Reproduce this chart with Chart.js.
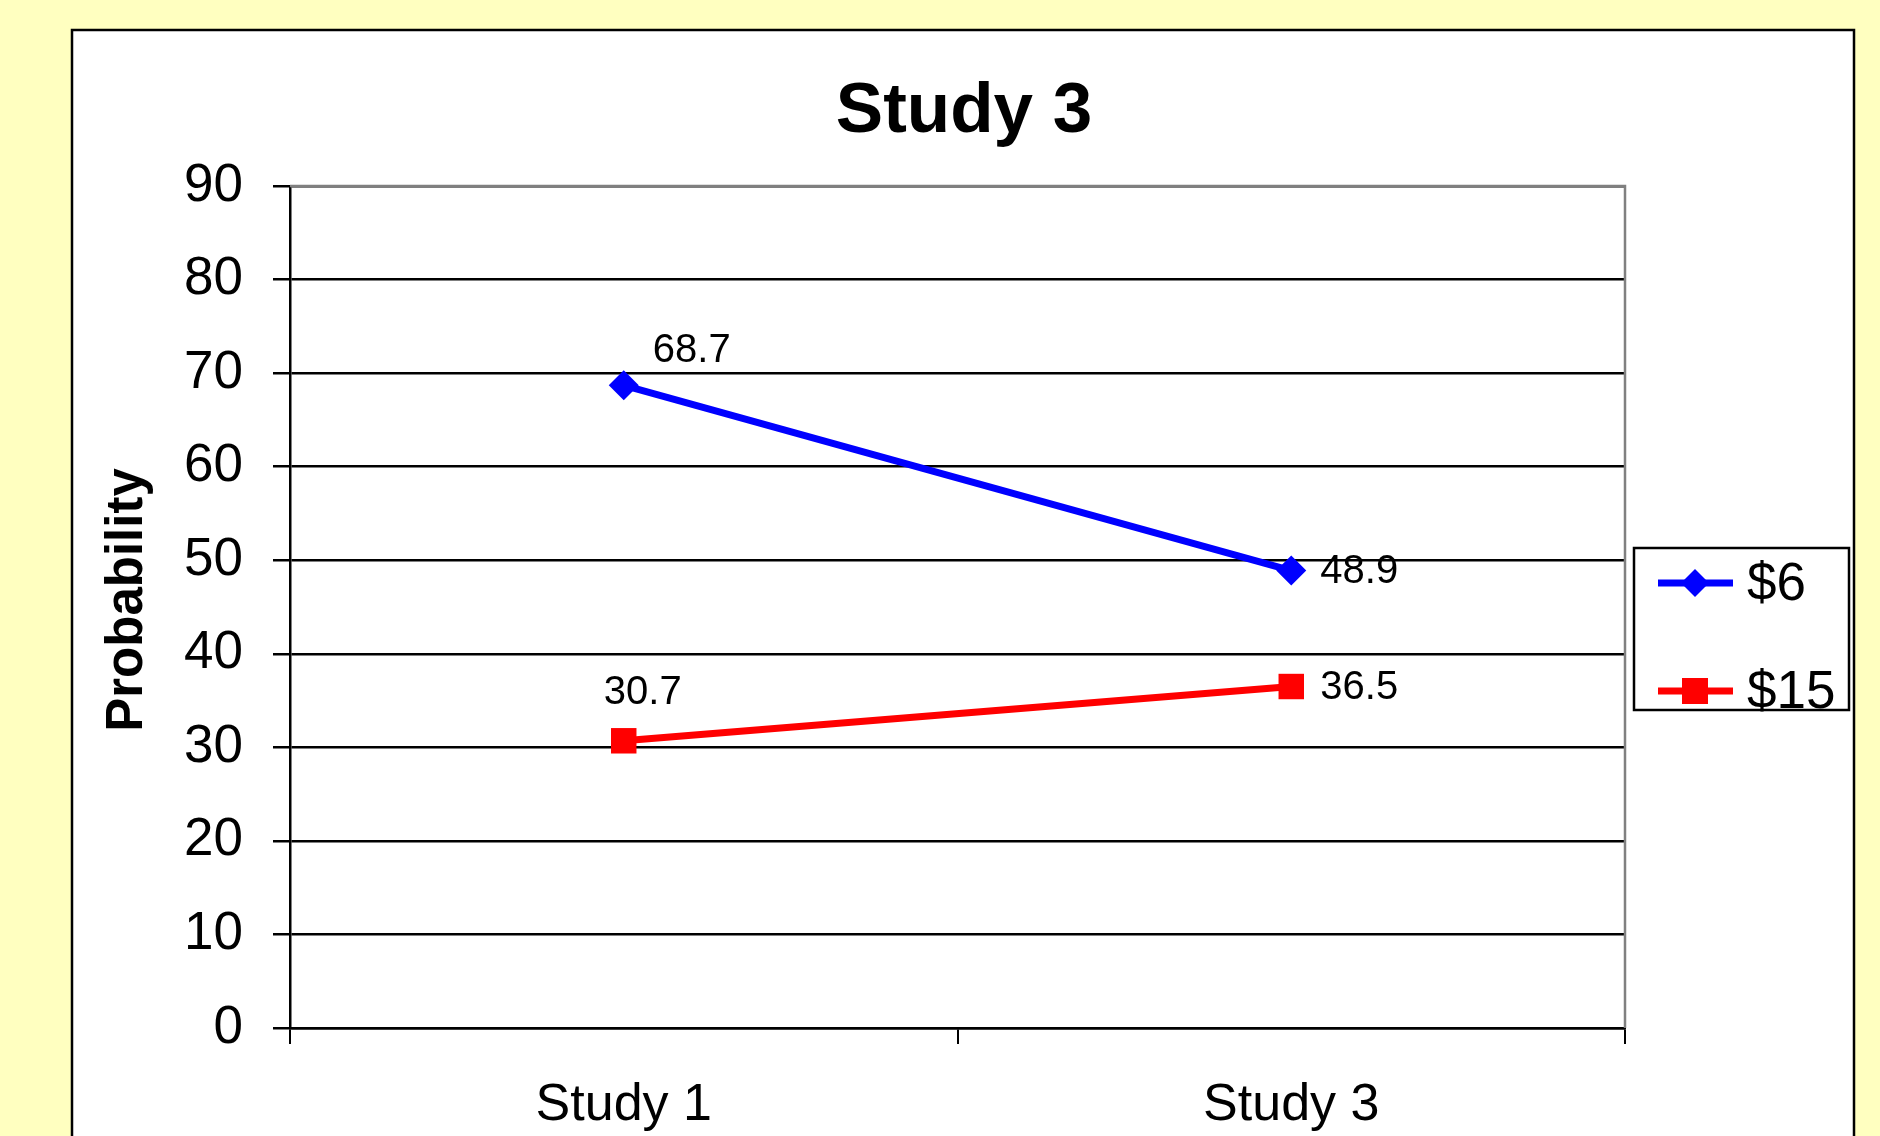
<!DOCTYPE html>
<html>
<head>
<meta charset="utf-8">
<title>Study 3</title>
<script src="https://cdn.jsdelivr.net/npm/chart.js@4/dist/chart.umd.min.js"></script>
<style>
  html, body { margin: 0; padding: 0; background: #FFFFC0; }
  #wrap { width: 1880px; height: 1136px; }
</style>
</head>
<body>
<div id="wrap"><canvas id="c" width="1880" height="1136"></canvas></div>
<script>
// Chart data
const categories = ['Study 1', 'Study 3'];
const seriesNames = ['$6', '$15'];
const values6 = [68.7, 48.9];
const values15 = [30.7, 36.5];
const yTicks = [0, 10, 20, 30, 40, 50, 60, 70, 80, 90];
const chartTitle = 'Study 3';
const yAxisTitle = 'Probability';

const FONT = '"Liberation Sans", Arial, Helvetica, sans-serif';

// Page backdrop: yellow slide with a white framed panel
const panelPlugin = {
  id: 'panel',
  beforeDraw(chart) {
    const ctx = chart.ctx;
    ctx.save();
    ctx.fillStyle = '#FFFFC0';
    ctx.fillRect(0, 0, chart.width, chart.height);
    ctx.fillStyle = '#FFFFFF';
    ctx.fillRect(72, 30, 1782, 1120);
    ctx.strokeStyle = '#000000';
    ctx.lineWidth = 2.5;
    ctx.strokeRect(72, 30, 1782, 1120);
    // title
    ctx.fillStyle = '#000000';
    ctx.font = 'bold 71px ' + FONT;
    ctx.textAlign = 'center';
    ctx.textBaseline = 'middle';
    ctx.fillText(chartTitle, 964, 112);
    // rotated axis title
    ctx.save();
    ctx.translate(128, 600);
    ctx.rotate(-Math.PI / 2);
    ctx.font = 'bold 51px ' + FONT;
    ctx.fillText(yAxisTitle, 0, 0);
    ctx.restore();
    ctx.restore();
  },
  beforeDatasetsDraw(chart) {
    // grey frame on top and right of the plot area
    const a = chart.chartArea;
    const ctx = chart.ctx;
    ctx.save();
    ctx.strokeStyle = '#808080';
    ctx.lineWidth = 2.5;
    ctx.beginPath();
    ctx.moveTo(a.left, a.top);
    ctx.lineTo(a.right, a.top);
    ctx.lineTo(a.right, a.bottom);
    ctx.stroke();
    ctx.restore();
  }
};

// Value labels next to each point
const labelOffsets = [
  [[68, -34], [68, 1]],
  [[19, -48], [68, 1]]
];
const valueLabelPlugin = {
  id: 'valueLabels',
  afterDatasetsDraw(chart) {
    const ctx = chart.ctx;
    ctx.save();
    ctx.fillStyle = '#000000';
    ctx.font = '40px ' + FONT;
    ctx.textAlign = 'center';
    ctx.textBaseline = 'middle';
    chart.data.datasets.forEach((ds, di) => {
      const meta = chart.getDatasetMeta(di);
      meta.data.forEach((pt, i) => {
        const off = labelOffsets[di][i];
        ctx.fillText(String(ds.data[i]), pt.x + off[0], pt.y + off[1]);
      });
    });
    ctx.restore();
  }
};

// Boxed legend on the right with line + marker samples
const boxLegendPlugin = {
  id: 'boxLegend',
  afterDraw(chart) {
    const ctx = chart.ctx;
    ctx.save();
    ctx.fillStyle = '#FFFFFF';
    ctx.fillRect(1634, 548, 215, 162);
    ctx.strokeStyle = '#000000';
    ctx.lineWidth = 2.5;
    ctx.strokeRect(1634, 548, 215, 162);
    const rows = [583, 691];
    chart.data.datasets.forEach((ds, di) => {
      const y = rows[di];
      ctx.strokeStyle = ds.borderColor;
      ctx.lineWidth = 7;
      ctx.beginPath();
      ctx.moveTo(1658, y);
      ctx.lineTo(1733, y);
      ctx.stroke();
      ctx.fillStyle = ds.pointBackgroundColor;
      ctx.beginPath();
      if (ds.pointStyle === 'rectRot') {
        const r = 14;
        ctx.moveTo(1695, y - r);
        ctx.lineTo(1695 + r, y);
        ctx.lineTo(1695, y + r);
        ctx.lineTo(1695 - r, y);
        ctx.closePath();
      } else {
        ctx.rect(1695 - 13, y - 13, 26, 26);
      }
      ctx.fill();
      ctx.fillStyle = '#000000';
      ctx.font = '53px ' + FONT;
      ctx.textAlign = 'left';
      ctx.textBaseline = 'middle';
      ctx.fillText(ds.label, 1747, y + 2);
    });
    ctx.restore();
  }
};

new Chart(document.getElementById('c'), {
  type: 'line',
  data: {
    labels: categories,
    datasets: [
      {
        label: seriesNames[0],
        data: values6,
        borderColor: '#0000FF',
        backgroundColor: '#0000FF',
        pointBackgroundColor: '#0000FF',
        pointBorderColor: '#0000FF',
        pointStyle: 'rectRot',
        pointRadius: 15,
        pointBorderWidth: 0,
        borderWidth: 7,
        tension: 0,
        fill: false
      },
      {
        label: seriesNames[1],
        data: values15,
        borderColor: '#FF0000',
        backgroundColor: '#FF0000',
        pointBackgroundColor: '#FF0000',
        pointBorderColor: '#FF0000',
        pointStyle: 'rect',
        pointRadius: 18,
        pointBorderWidth: 0,
        borderWidth: 7,
        tension: 0,
        fill: false
      }
    ]
  },
  options: {
    responsive: false,
    animation: false,
    devicePixelRatio: 1,
    layout: { padding: { top: 186, right: 255, left: 0, bottom: 0 } },
    plugins: {
      legend: { display: false },
      title: { display: false },
      tooltip: { enabled: false }
    },
    scales: {
      x: {
        type: 'category',
        offset: true,
        afterFit(scale) { scale.height = 108; },
        grid: {
          offset: true,
          drawOnChartArea: false,
          drawTicks: true,
          tickLength: 16,
          color: '#000000',
          lineWidth: 2
        },
        border: { display: true, color: '#000000', width: 2.5 },
        ticks: {
          color: '#000000',
          padding: 30,
          maxRotation: 0,
          font: { family: FONT, size: 52 }
        }
      },
      y: {
        min: 0,
        max: 90,
        afterFit(scale) { scale.width = 290; },
        afterBuildTicks(scale) { scale.ticks = yTicks.map(v => ({ value: v })); },
        grid: {
          drawOnChartArea: true,
          drawTicks: true,
          tickLength: 17,
          color: '#000000',
          lineWidth: 2.5
        },
        border: { display: true, color: '#000000', width: 2.5 },
        ticks: {
          color: '#000000',
          padding: 30,
          font: { family: FONT, size: 53 }
        }
      }
    }
  },
  plugins: [panelPlugin, valueLabelPlugin, boxLegendPlugin]
});
</script>
</body>
</html>
